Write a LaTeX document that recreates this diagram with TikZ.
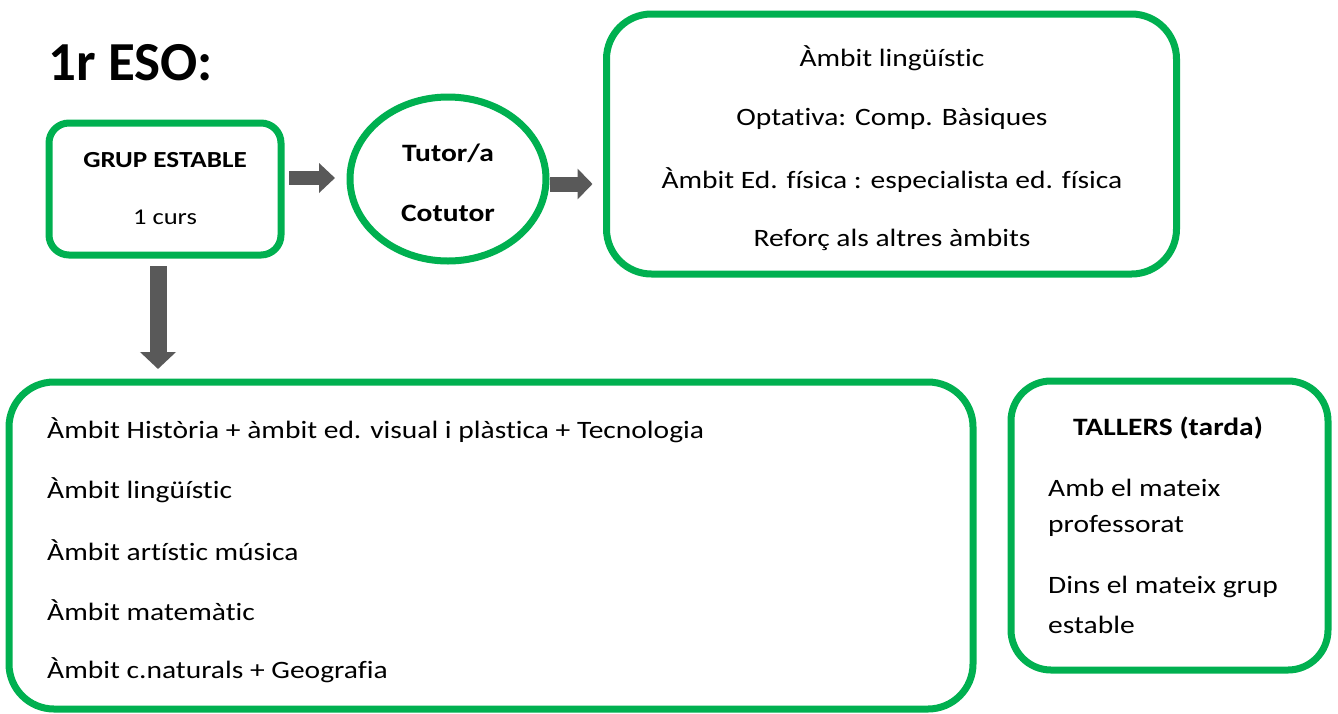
\documentclass[tikz,border=0pt]{standalone}
\usepackage{fontspec}
\setmainfont{Carlito}[FakeStretch=1.18, Ligatures=NoCommon]
\newfontfamily\titlefont{Carlito}[Ligatures=NoCommon]
\usetikzlibrary{arrows.meta,calc,shapes.geometric}
\definecolor{boxgreen}{HTML}{00B050}
\definecolor{arrowgray}{HTML}{595959}
\tikzset{
  gbox/.style={draw=boxgreen, line width=7pt, rounded corners=#1, inner sep=0pt, outer sep=0pt},
  gbox/.default=20pt,
  txt/.style={inner sep=0pt, font=\fontsize{25}{30}\selectfont},
  btxt/.style={inner sep=0pt, font=\bfseries\fontsize{25}{30}\selectfont},
  fatarr/.style n args={3}{draw=arrowgray, line width=#1, -{Triangle[width=#2, length=#3]}},
}
\begin{document}
\begin{tikzpicture}[x=1pt,y=-1pt]
\useasboundingbox (0,0) rectangle (1338,713);
% title
\node[anchor=base west, inner sep=0pt, font=\titlefont\bfseries\fontsize{55}{66}\selectfont] (title) at (48,80) {1r ESO:};
% boxes
\node[gbox, minimum width=232pt, minimum height=132pt] (grupbox) at (165,189) {};
\node[draw=boxgreen, line width=7pt, ellipse, inner sep=0pt, outer sep=0pt, minimum width=196pt, minimum height=164pt] (ell) at (448,179) {};
\node[gbox=45pt, minimum width=570pt, minimum height=260pt] (topbox) at (891.5,144) {};
\node[gbox=45pt, minimum width=964pt, minimum height=327pt] (bottombox) at (491,545.5) {};
\node[gbox=40pt, minimum width=317pt, minimum height=289pt] (tallersbox) at (1169.5,525.5) {};
% group texts
\node[btxt, font=\bfseries\fontsize{23}{28}\selectfont] (grup) at (165,160) {GRUP ESTABLE};
\node[txt, font=\fontsize{22.5}{27}\selectfont] (curs) at (165,217) {1 curs};
% ellipse texts
\node[btxt] (tutor) at (448,153) {Tutor/a};
\node[btxt] (cotutor) at (448,213) {Cotutor};
% top right texts
\node[txt] (t1) at (892,58) {Àmbit lingüístic};
\node[txt] (t2) at (892,119) {Optativa: Comp. Bàsiques};
\node[txt] (t3) at (892,180) {Àmbit Ed. física : especialista ed. física};
\node[txt] (t4) at (892,240) {Reforç als altres àmbits};
% bottom texts
\foreach \y/\t [count=\i] in {430/{Àmbit Història + àmbit ed. visual i plàstica + Tecnologia},490/{Àmbit lingüístic},550/{Àmbit artístic música},610/{Àmbit matemàtic},670/{Àmbit c.naturals + Geografia}}
  \node[txt, anchor=west] (b\i) at (47,\y) {\t};
% tallers texts
\node[btxt] (tallers) at (1168,428) {TALLERS (tarda)};
\node[txt, anchor=west] (ta1) at (1048,488) {Amb el mateix};
\node[txt, anchor=west] (ta2) at (1048,526) {professorat};
\node[txt, anchor=west] (ta3) at (1048,587) {Dins el mateix grup};
\node[txt, anchor=west] (ta4) at (1048,625) {estable};
% arrows
\draw[fatarr={14pt}{29pt}{16pt}, shorten <=8pt, shorten >=15pt] ($(grupbox.east)+(0,-11)$) -- ($(ell.west)+(0,-1)$);
\draw[fatarr={15pt}{30pt}{15pt}, shorten <=4pt, shorten >=14pt] ($(ell.east)+(0,5)$) -- ($(ell.east -| topbox.west)+(0,5)$);
\draw[fatarr={17pt}{35pt}{17pt}, shorten <=11pt, shorten >=13pt] ($(grupbox.south)+(-7,0)$) -- ($(grupbox.south |- bottombox.north)+(-7,0)$);
\end{tikzpicture}
\end{document}
